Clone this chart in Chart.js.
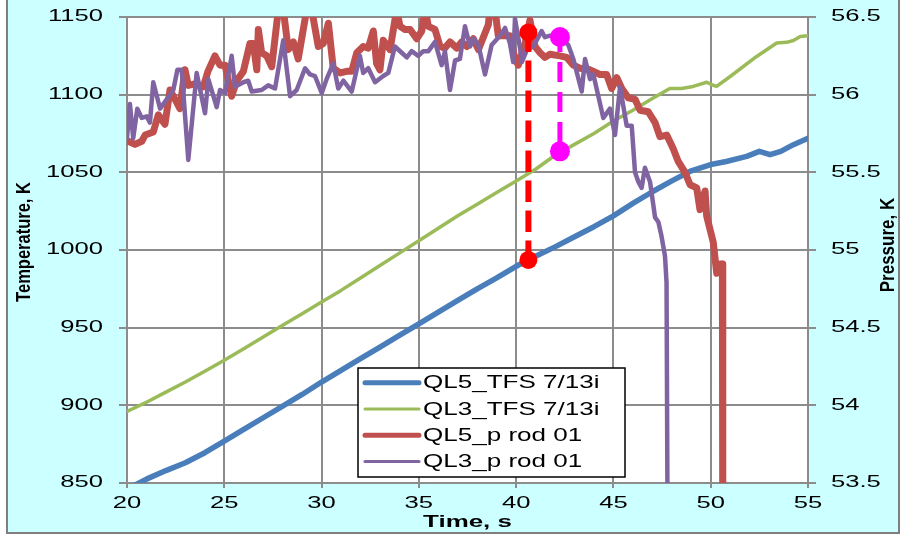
<!DOCTYPE html>
<html>
<head>
<meta charset="utf-8">
<script src="https://cdn.jsdelivr.net/npm/chart.js@4.4.1/dist/chart.umd.min.js"></script>
<style>
  html, body { margin: 0; padding: 0; background: #ffffff; }
  canvas { display: block; }
</style>
</head>
<body>
<canvas id="chart" width="904" height="540"></canvas>
<script>
// Axis tick labels
const timeTicks = [20, 25, 30, 35, 40, 45, 50, 55];
const temperatureTicks = [850, 900, 950, 1000, 1050, 1100, 1150];
const pressureTicks = ['53.5', '54', '54.5', '55', '55.5', '56', '56.5'];

// Series names and colours
const seriesNames = ['QL5_TFS 7/13i', 'QL3_TFS 7/13i', 'QL5_p rod 01', 'QL3_p rod 01'];
const seriesColors = ['#4A7EBB', '#9BBB59', '#C0504D', '#8064A2'];

// QL5 thermocouple temperature [time s, K]
const ql5Tfs = [
  [20, 846], [21, 852.5], [22, 858], [23, 863], [24, 869.5], [25, 877], [26, 884.5],
  [27, 892], [28, 899.5], [29, 907], [30, 915], [31, 922.5], [32, 930], [33, 937.5],
  [34, 945], [35, 952.5], [36, 960], [37, 967.5], [38, 975], [39, 982], [40, 989.5],
  [41, 996], [42, 1002], [43, 1008.5], [44, 1015], [45, 1022], [46, 1030], [47, 1037.5],
  [48, 1044.5], [49, 1051], [50, 1055], [50.8, 1057], [51.85, 1060.3], [52.5, 1063.5],
  [53.05, 1061.4], [53.6, 1063.5], [54.25, 1067.8], [55, 1072]
];

// QL3 thermocouple temperature [time s, K]
const ql3Tfs = [
  [20, 896], [21, 902], [22, 908.5], [23, 915], [24, 922], [25, 929], [26, 936.5],
  [27, 944], [28, 951.5], [29, 959], [30, 966.5], [31, 974], [32, 982], [33, 990],
  [34, 998], [35, 1006], [36, 1014], [37, 1022], [38, 1029.5], [39, 1037], [40, 1044.5],
  [41, 1052], [42, 1061], [43, 1068], [44, 1075], [45, 1083], [46, 1090], [47, 1097.5],
  [47.9, 1104], [48.5, 1104], [49.1, 1105.3], [49.8, 1108], [50.05, 1106.4], [50.3, 1105.3],
  [51, 1111.7], [52.36, 1124.6], [53.39, 1133.3], [53.9, 1133.7], [54.25, 1134.9],
  [54.6, 1137.5], [55, 1138]
];

// QL5 rod internal pressure [time s, bar]
const ql5Pressure = [
  [20.07, 55.70], [20.41, 55.68], [20.76, 55.70], [20.93, 55.74], [21.35, 55.76], [21.61, 55.87],
  [21.95, 55.81], [22.21, 56.03], [22.47, 55.97], [22.72, 55.91], [22.98, 56.16], [23.15, 56.06],
  [23.49, 56.07], [23.92, 56.05], [24.16, 56.15], [24.52, 56.25], [24.78, 56.19], [25.04, 56.19],
  [25.38, 55.99], [25.64, 56.09], [25.98, 56.15], [26.32, 56.33], [26.49, 56.33], [26.67, 56.16],
  [26.75, 56.42], [26.92, 56.27], [27.18, 56.25], [27.44, 56.18], [27.78, 56.55], [28.03, 56.55],
  [28.29, 56.29], [28.55, 56.34], [28.80, 56.23], [29.06, 56.42], [29.24, 56.55], [29.49, 56.55],
  [29.83, 56.31], [30.09, 56.33], [30.35, 56.46], [30.60, 56.17], [30.95, 56.14], [31.29, 56.15],
  [31.55, 56.15], [31.81, 56.27], [32.14, 56.31], [32.40, 56.30], [32.66, 56.41], [32.83, 56.20],
  [33.00, 56.16], [33.17, 56.35], [33.52, 56.29], [33.86, 56.55], [34.03, 56.44], [34.29, 56.42],
  [34.55, 56.42], [34.89, 56.36], [35.15, 56.41], [35.32, 56.55], [35.49, 56.44], [35.83, 56.42],
  [36.09, 56.31], [36.34, 56.30], [36.60, 56.34], [36.95, 56.30], [37.20, 56.34], [37.46, 56.31],
  [37.80, 56.36], [38.06, 56.29], [38.57, 56.45], [38.66, 56.55], [38.91, 56.55], [39.08, 56.38],
  [39.43, 56.38], [39.68, 56.38], [39.94, 56.23], [40.11, 56.19], [40.46, 56.33], [40.71, 56.48],
  [40.97, 56.31], [41.23, 56.27], [41.48, 56.24], [41.74, 56.26], [42.25, 56.25], [42.60, 56.24],
  [42.94, 56.19], [43.28, 56.17], [43.80, 56.16], [44.31, 56.13], [44.65, 56.13], [44.91, 56.04],
  [45.17, 56.11], [45.43, 56.04], [45.76, 55.98], [46.11, 55.97], [46.37, 55.90], [46.79, 55.89],
  [47.14, 55.82], [47.39, 55.73], [47.74, 55.74], [48.08, 55.65], [48.33, 55.57], [48.68, 55.50],
  [48.94, 55.42], [49.28, 55.40], [49.45, 55.26], [49.71, 55.38], [49.79, 55.22], [50.13, 55.05],
  [50.31, 54.85], [50.48, 54.91], [50.60, 54.91], [50.62, 53.0]
];

// QL3 rod internal pressure [time s, bar]
const ql3Pressure = [
  [20.00, 55.72], [20.15, 55.94], [20.32, 55.72], [20.53, 55.91], [20.76, 55.85], [21.01, 55.86],
  [21.18, 55.82], [21.35, 56.08], [21.70, 55.91], [22.04, 55.97], [22.38, 56.03], [22.59, 56.16],
  [22.81, 56.16], [23.15, 55.58], [23.58, 56.14], [24.01, 55.88], [24.18, 56.10], [24.61, 55.92],
  [24.78, 56.03], [25.04, 56.01], [25.38, 56.25], [25.55, 56.05], [25.98, 56.08], [26.23, 56.09],
  [26.41, 56.02], [26.92, 56.03], [27.26, 56.06], [27.61, 56.04], [28.03, 56.35], [28.38, 55.99],
  [28.72, 56.03], [29.15, 56.17], [29.41, 56.13], [29.66, 56.12], [30.01, 56.01], [30.26, 56.10],
  [30.60, 56.20], [30.86, 56.04], [31.12, 56.09], [31.55, 56.02], [31.97, 56.25], [32.14, 56.14],
  [32.40, 56.17], [32.75, 56.08], [33.17, 56.12], [33.43, 56.14], [33.77, 56.31], [34.12, 56.27],
  [34.38, 56.24], [34.63, 56.28], [34.97, 56.25], [35.23, 56.28], [35.49, 56.28], [35.83, 56.34],
  [36.17, 56.19], [36.34, 56.28], [36.60, 56.03], [36.86, 56.22], [37.11, 56.23], [37.37, 56.44],
  [37.63, 56.31], [37.80, 56.36], [38.06, 56.32], [38.40, 56.13], [38.74, 56.32], [39.17, 56.38],
  [39.43, 56.43], [39.68, 56.33], [39.85, 56.21], [39.94, 56.49], [40.20, 56.30], [40.29, 56.21],
  [40.56, 56.29], [40.88, 56.31], [41.14, 56.37], [41.31, 56.41], [41.48, 56.37], [41.74, 56.38],
  [42.25, 56.37], [42.68, 56.32], [42.94, 56.23], [43.37, 56.02], [43.54, 56.23], [43.80, 56.10],
  [43.97, 56.13], [44.48, 55.85], [44.82, 55.91], [45.08, 55.74], [45.34, 56.05], [45.68, 55.80],
  [45.94, 55.80], [46.11, 55.50], [46.28, 55.44], [46.45, 55.40], [46.62, 55.53], [46.88, 55.44],
  [47.14, 55.21], [47.31, 55.18], [47.47, 55.09], [47.65, 54.96], [47.73, 54.79], [47.79, 53.0]
];

// Burst markers: temperature at the moment each rod lost pressure [time s, K]
const ql5Burst = [[40.63, 1140.1], [40.63, 993.6]];
const ql3Burst = [[42.25, 1137.1], [42.25, 1063.5]];

const FONT = '"Liberation Sans", Arial, Helvetica, sans-serif';
const GRID = '#8c8c8c';

const toPoints = arr => arr.map(([x, y]) => ({ x, y }));

function stretchedText(ctx, text, x, y, o) {
  ctx.save();
  ctx.font = o.font;
  ctx.fillStyle = o.color || '#000000';
  ctx.textBaseline = 'middle';
  ctx.textAlign = o.align || 'center';
  ctx.translate(x, y);
  ctx.scale(o.sx || 1, 1);
  if (o.rotate) ctx.rotate(o.rotate);
  ctx.fillText(text, 0, 0);
  ctx.restore();
}

// Cyan frame and white plotting area
const framePlugin = {
  id: 'frame',
  beforeDraw(chart) {
    const { ctx, chartArea: a } = chart;
    ctx.save();
    ctx.fillStyle = '#CCFFFF';
    ctx.fillRect(6, 0, 894, 533);
    ctx.strokeStyle = '#7f7f7f';
    ctx.lineWidth = 2;
    ctx.beginPath();
    ctx.moveTo(7, 0); ctx.lineTo(7, 533); ctx.lineTo(899, 533); ctx.lineTo(899, 0);
    ctx.stroke();
    ctx.fillStyle = '#ffffff';
    ctx.fillRect(a.left, a.top, a.right - a.left, a.bottom - a.top);
    ctx.restore();
  }
};

// Tick labels and axis titles
const axisTextPlugin = {
  id: 'axisText',
  afterDraw(chart) {
    const { ctx, chartArea: a, scales } = chart;
    const tickFont = '16px ' + FONT;
    timeTicks.forEach(v => stretchedText(ctx, String(v), scales.x.getPixelForValue(v), a.bottom + 21,
      { font: tickFont, sx: 1.6 }));
    temperatureTicks.forEach(v => stretchedText(ctx, String(v), a.left - 24, scales.yT.getPixelForValue(v),
      { font: tickFont, sx: 1.6, align: 'right' }));
    pressureTicks.forEach(s => stretchedText(ctx, s, a.right + 23, scales.yP.getPixelForValue(parseFloat(s)),
      { font: tickFont, sx: 1.6, align: 'left' }));

    stretchedText(ctx, 'Time, s', (a.left + a.right) / 2, a.bottom + 39.5,
      { font: 'bold 16px ' + FONT, sx: 1.62 });
    stretchedText(ctx, 'Temperature, K', 25, a.top + 225,
      { font: 'bold 16.5px ' + FONT, sx: 1.2, rotate: -Math.PI / 2 });
    stretchedText(ctx, 'Pressure, K', a.right + 80, a.top + 228,
      { font: 'bold 17px ' + FONT, sx: 1.2, rotate: -Math.PI / 2 });
  }
};

// Boxed legend inside the plotting area
const legendBoxPlugin = {
  id: 'legendBox',
  afterDraw(chart) {
    const { ctx, chartArea: a } = chart;
    const x = a.left + 231, y = a.top + 351, w = 267, h = 109;
    const widths = [5, 3, 5, 3];
    ctx.save();
    ctx.fillStyle = '#ffffff';
    ctx.fillRect(x, y, w, h);
    ctx.strokeStyle = '#000000';
    ctx.lineWidth = 1.5;
    ctx.strokeRect(x, y, w, h);
    seriesNames.forEach((name, i) => {
      const cy = y + 14.7 + i * 26.3;
      ctx.strokeStyle = seriesColors[i];
      ctx.lineWidth = widths[i];
      ctx.lineCap = 'round';
      ctx.beginPath();
      ctx.moveTo(x + 7, cy);
      ctx.lineTo(x + 61, cy);
      ctx.stroke();
      stretchedText(ctx, name, x + 65, cy + 0.5, { font: '19px ' + FONT, sx: 1.37, align: 'left' });
    });
    ctx.restore();
  }
};

const lineDefaults = {
  pointRadius: 0,
  pointHoverRadius: 0,
  tension: 0,
  fill: false,
  clip: 0,
  borderJoinStyle: 'round',
  borderCapStyle: 'round'
};

new Chart(document.getElementById('chart'), {
  type: 'line',
  data: {
    datasets: [
      {
        label: 'QL5 burst', data: toPoints(ql5Burst), yAxisID: 'yT', order: 0,
        borderColor: '#FF0000', borderWidth: 6, borderDash: [21.5, 8.5], borderDashOffset: 2,
        pointRadius: 9, pointHoverRadius: 9, pointBorderWidth: 0, pointBackgroundColor: '#FF0000',
        tension: 0, fill: false, clip: false
      },
      {
        label: 'QL3 burst', data: toPoints(ql3Burst), yAxisID: 'yT', order: 0,
        borderColor: '#FF00FF', borderWidth: 5, borderDash: [20, 10], borderDashOffset: 5,
        pointRadius: 10, pointHoverRadius: 10, pointBorderWidth: 0, pointBackgroundColor: '#FF00FF',
        tension: 0, fill: false, clip: false
      },
      { ...lineDefaults, label: seriesNames[3], data: toPoints(ql3Pressure), yAxisID: 'yP', order: 1,
        borderColor: seriesColors[3], borderWidth: 4.5 },
      { ...lineDefaults, label: seriesNames[2], data: toPoints(ql5Pressure), yAxisID: 'yP', order: 2,
        borderColor: seriesColors[2], borderWidth: 7 },
      { ...lineDefaults, label: seriesNames[1], data: toPoints(ql3Tfs), yAxisID: 'yT', order: 3,
        borderColor: seriesColors[1], borderWidth: 3.5 },
      { ...lineDefaults, label: seriesNames[0], data: toPoints(ql5Tfs), yAxisID: 'yT', order: 4,
        borderColor: seriesColors[0], borderWidth: 5.5 }
    ]
  },
  options: {
    responsive: false,
    animation: false,
    devicePixelRatio: 1,
    events: [],
    layout: { padding: { top: 17, left: 0, right: 0, bottom: 0 } },
    plugins: { legend: { display: false }, tooltip: { enabled: false } },
    scales: {
      x: {
        type: 'linear', min: 20, max: 55,
        ticks: { stepSize: 5, display: false },
        grid: { color: GRID, lineWidth: 2, tickLength: 5, drawTicks: true },
        border: { color: GRID, width: 2 },
        afterFit: s => { s.height = 57; }
      },
      yT: {
        type: 'linear', position: 'left', min: 850, max: 1150,
        ticks: { stepSize: 50, display: false },
        grid: { color: GRID, lineWidth: 2, tickLength: 8, drawTicks: true },
        border: { color: GRID, width: 2 },
        afterFit: s => { s.width = 127; }
      },
      yP: {
        type: 'linear', position: 'right', min: 53.5, max: 56.5,
        ticks: { stepSize: 0.5, display: false },
        grid: { drawOnChartArea: false, color: GRID, lineWidth: 2, tickLength: 8, drawTicks: true },
        border: { color: GRID, width: 2 },
        afterFit: s => { s.width = 96; }
      }
    }
  },
  plugins: [framePlugin, axisTextPlugin, legendBoxPlugin]
});
</script>
</body>
</html>
